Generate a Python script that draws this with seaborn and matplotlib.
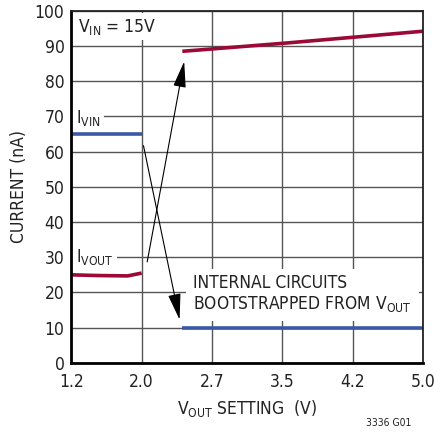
import numpy as np
import pandas as pd
import matplotlib
matplotlib.use('Agg')
import matplotlib.pyplot as plt
import seaborn as sns

# Data
x_ticks = np.linspace(1.2, 5.0, 6)
x_tick_labels = ['1.2', '2.0', '2.7', '3.5', '4.2', '5.0']
y_ticks = [0, 10, 20, 30, 40, 50, 60, 70, 80, 90, 100]

# I_VIN: before bootstrap and after bootstrap
ivin_low_x = [1.2, 1.96]
ivin_low_y = [65.0, 65.0]
ivin_high_x = [2.40, 5.0]
ivin_high_y = [10.0, 10.0]

# I_VOUT: before bootstrap and after bootstrap
ivout_low_x = [1.2, 1.5, 1.81, 1.96]
ivout_low_y = [25.0, 24.8, 24.7, 25.5]
ivout_high_x = [2.40, 3.5, 5.0]
ivout_high_y = [88.5, 90.8, 94.2]

red = '#9B0A36'
blue = '#3B58A6'
grid_col = '#555555'
txt_col = '#222222'

sns.set_theme(style='white')
plt.rcParams['font.family'] = ['DejaVu Sans']
plt.rcParams['font.stretch'] = 'condensed'
plt.rcParams['mathtext.fontset'] = 'dejavusans'
plt.rcParams['mathtext.default'] = 'regular'

fig = plt.figure(figsize=(4.35, 4.33), dpi=100)
ax = fig.add_axes([0.164, 0.162, 0.808, 0.813])

segments = [
    (ivin_low_x, ivin_low_y, blue),
    (ivin_high_x, ivin_high_y, blue),
    (ivout_low_x, ivout_low_y, red),
    (ivout_high_x, ivout_high_y, red),
]
for xs, ys, col in segments:
    df = pd.DataFrame({'x': xs, 'y': ys})
    sns.lineplot(data=df, x='x', y='y', ax=ax, color=col, lw=2.6,
                 solid_capstyle='butt', zorder=4)

ax.set_xlim(1.2, 5.0)
ax.set_ylim(0, 100)
ax.set_xticks(x_ticks)
ax.set_xticklabels(x_tick_labels)
ax.set_yticks(y_ticks)
ax.tick_params(length=0, labelsize=12.5, colors=txt_col, pad=5)
ax.tick_params(axis='x', pad=7)
ax.grid(True, color=grid_col, lw=1.0)
ax.set_axisbelow(True)

for side in ['left', 'bottom']:
    ax.spines[side].set_linewidth(2.0)
    ax.spines[side].set_color('black')
for side in ['top', 'right']:
    ax.spines[side].set_linewidth(1.3)
    ax.spines[side].set_color(txt_col)
for sp in ax.spines.values():
    sp.set_zorder(8)

ax.set_xlabel('V$_{OUT}$ SETTING  (V)', fontsize=12.5, color=txt_col, labelpad=5)
ax.set_ylabel('CURRENT (nA)', fontsize=12.5, color=txt_col, labelpad=5)

box = dict(facecolor='white', edgecolor='none', pad=2.5)
ax.text(1.27, 95.5, 'V$_{IN}$ = 15V', fontsize=12.5, color=txt_col,
        va='center', ha='left', bbox=box, zorder=5)
ax.text(1.25, 69.6, 'I$_{VIN}$', fontsize=12.5, color=txt_col,
        va='center', ha='left', bbox=box, zorder=5)
ax.text(1.25, 30.0, 'I$_{VOUT}$', fontsize=12.5, color=txt_col,
        va='center', ha='left', bbox=box, zorder=5)
ax.text(2.52, 19.5, 'INTERNAL CIRCUITS\nBOOTSTRAPPED FROM V$_{OUT}$',
        fontsize=12.5, color=txt_col, va='center', ha='left', linespacing=1.1,
        bbox=dict(facecolor='white', edgecolor='none', pad=5), zorder=5)

arrow = dict(arrowstyle='-|>,head_width=0.22,head_length=0.9', color='black',
             lw=0.8, mutation_scale=18, shrinkA=0, shrinkB=0)
ax.annotate('', xy=(2.37, 12.3), xytext=(1.98, 61.7), arrowprops=arrow, zorder=6)
ax.annotate('', xy=(2.42, 85.6), xytext=(2.02, 28.7), arrowprops=arrow, zorder=6)

fig.text(0.945, 0.023, '3336 G01', fontsize=7.5, ha='right', va='center', color=txt_col)

fig.savefig('out.png', dpi=100)
